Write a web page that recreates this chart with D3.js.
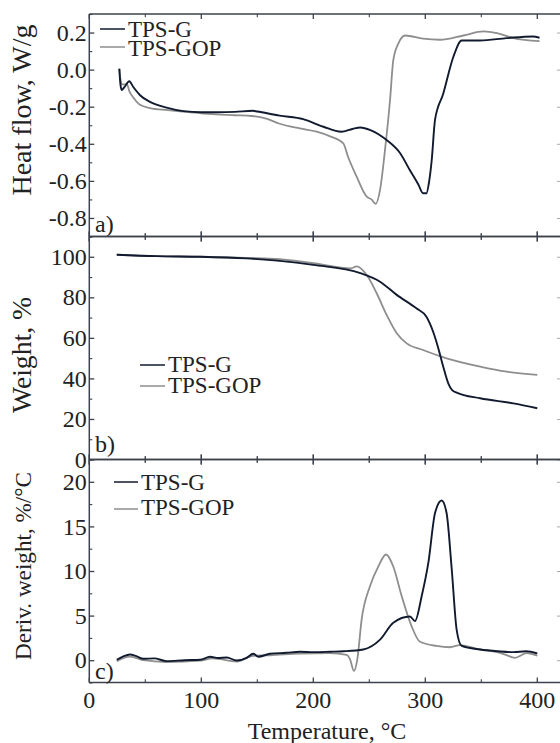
<!DOCTYPE html>
<html>
<head>
<meta charset="utf-8">
<script src="https://cdn.jsdelivr.net/npm/d3@7"></script>
<style>
  body { margin: 0; background: #fff; }
  svg { display: block; font-family: "Liberation Serif", "Times New Roman", serif; }
</style>
</head>
<body>
<div id="chart"></div>
<script>
// [temperature °C, value] pairs
var heatFlowG = [[26.8, 0.005], [27.8, -0.08], [28.9, -0.11], [31.5, -0.093], [35.7, -0.063], [39.3, -0.094],
    [45.3, -0.138], [54.2, -0.174], [69, -0.205], [84, -0.224], [100, -0.23], [114, -0.23], [130, -0.228],
    [146, -0.222], [150, -0.226], [170, -0.248], [191, -0.267], [209, -0.308], [225, -0.335], [235, -0.32],
    [242, -0.312], [251, -0.326], [265.5, -0.38], [277.4, -0.45], [286, -0.54], [293.8, -0.62], [298, -0.667],
    [301, -0.667], [303.5, -0.6], [305.7, -0.49], [308.7, -0.27], [316, -0.13], [325, 0.068], [332.5, 0.157],
    [349, 0.157], [372.7, 0.17], [396, 0.179], [402, 0.172]];
var heatFlowGop = [[26.8, 0.005], [28, -0.06], [29.5, -0.08], [33.4, -0.078], [36, -0.12], [39.3, -0.15],
    [45.3, -0.19], [54.2, -0.207], [70, -0.218], [87, -0.228], [110, -0.24], [128.6, -0.246], [145, -0.25],
    [158, -0.264], [170, -0.292], [188, -0.317], [203, -0.335], [215, -0.36], [226.8, -0.398], [231, -0.47],
    [238.7, -0.577], [247.7, -0.685], [252, -0.7], [255.7, -0.724], [259.6, -0.649], [264, -0.434],
    [268.5, -0.165], [271.4, 0.05], [275.9, 0.14], [282, 0.184], [298, 0.167], [313, 0.161], [334, 0.184],
    [352, 0.206], [364, 0.197], [378.6, 0.17], [402, 0.154]];

var weightG = [[24.5, 101], [60, 100.3], [99, 100], [140, 99.2], [170, 98], [200, 96], [242, 91.9],
    [259.6, 87.7], [274.5, 81.2], [292, 74.6], [301, 70.4], [307, 63], [311.6, 54.9], [316, 45.8],
    [320.5, 37.6], [324, 34.2], [328, 33], [349, 30.2], [378.6, 27.7], [400, 25.3]];
var weightGop = [[24.5, 101], [60, 100.3], [99, 100], [140, 99.4], [170, 98.8], [200, 96.8], [234, 94.3],
    [238.7, 95.3], [247.7, 91], [256.6, 82], [265.5, 71.3], [274.5, 62.3], [283.4, 57.3], [298, 54],
    [319, 49.9], [349, 45.8], [372.7, 43.3], [400, 41.7]];

var derivG = [[24.5, 0.05], [30, 0.4], [36.3, 0.64], [42, 0.45], [48.2, 0.16], [58, 0.2], [69, -0.1], [85, 0.0],
    [99, 0.05], [107.8, 0.38], [115, 0.25], [122.7, 0.3], [131.6, -0.03], [140.5, 0.27], [146.4, 0.72],
    [150.9, 0.38], [161.3, 0.72], [176, 0.83], [188, 0.94], [200, 0.9], [215, 0.95], [227, 1.0], [244.6, 1.2],
    [259.6, 2.3], [271.4, 4.2], [286.3, 4.9], [290.8, 4.4], [296.8, 7.2], [302.7, 10.9], [308.7, 16.5],
    [314.6, 17.9], [319, 16.5], [323.6, 10.2], [328, 3.4], [332.5, 1.6], [349, 1.2], [365, 1.0], [378.6, 0.9],
    [390, 1.0], [400, 0.75]];
var derivGop = [[24.5, -0.1], [36.3, 0.4], [48.2, 0.0], [69, -0.2], [99, -0.05], [110, 0.2], [131.6, -0.15],
    [146.4, 0.5], [161.3, 0.55], [188, 0.75], [215, 0.8], [229.8, 0.6], [232.8, 0.1], [236.3, -1.2],
    [239.3, 0.1], [243.2, 4.6], [250.6, 8.3], [258, 10.5], [265, 11.85], [271.4, 10.5], [278.9, 7.2],
    [287.8, 3.8], [295, 2.1], [310, 1.6], [322, 1.45], [331, 1.7], [349, 1.2], [364, 0.9], [372, 0.6],
    [380, 0.27], [390.5, 0.8], [400, 0.5]];

var seriesNames = ["TPS-G", "TPS-GOP"];
var xTicks = [0, 100, 200, 300, 400];
var heatTicks = [0.2, 0.0, -0.2, -0.4, -0.6, -0.8];
var weightTicks = [0, 20, 40, 60, 80, 100];
var derivTicks = [0, 5, 10, 15, 20];

var width = 560, height = 743,
    left = 89.3, right = 561,
    serif = "\"Liberation Serif\", \"Times New Roman\", serif";

var colG = "#111a2e", colGop = "#8e8e8e", axisCol = "#3d424c", textCol = "#222";

function label(sel, size) {
    return sel.style("font-family", serif).style("font-size", size + "px").attr("fill", textCol);
}

function draw() {
    d3.select("#chart").selectAll("*").remove();

    var svg = d3.select("#chart").append("svg")
        .attr("width", width)
        .attr("height", height);

    var x = d3.scaleLinear().domain([0, 420]).range([left, 559.7]);

    var panels = [
        { top: 14, bottom: 236.5, domain: [-0.9, 0.3], ticks: heatTicks, minor: 0.1, fmt: function (d) { return d3.format(".1f")(d).replace("−", "-"); },
          title: "Heat flow, W/g", titleY: 110, titleLen: 178, tag: "a)", tagY: 232,
          data: [heatFlowG, heatFlowGop],
          legend: { x1: 100, x2: 125, tx: 128, ys: [29, 47], tys: [37, 56] } },
        { top: 236.5, bottom: 459.5, domain: [0, 110], ticks: weightTicks, minor: 10, fmt: d3.format("d"),
          title: "Weight, %", titleY: 355, titleLen: 116, tag: "b)", tagY: 452,
          data: [weightG, weightGop],
          legend: { x1: 140, x2: 165, tx: 168, ys: [365, 386], tys: [372, 393] } },
        { top: 459.5, bottom: 682.5, domain: [-2.5, 22.5], ticks: derivTicks, minor: 2.5, fmt: d3.format("d"),
          title: "Deriv. weight, %/°C", titleY: 566, titleLen: 188, tag: "c)", tagY: 679,
          data: [derivG, derivGop],
          legend: { x1: 114, x2: 138, tx: 141, ys: [482, 509], tys: [490, 515] } }
    ];

    panels.forEach(function (p, pi) {
        var y = d3.scaleLinear().domain(p.domain).range([p.bottom, p.top]);
        var g = svg.append("g");

        var minorVals = d3.range(Math.ceil(p.domain[0] / p.minor) * p.minor, p.domain[1] + 1e-9, p.minor)
            .filter(function (v) { return p.ticks.every(function (t) { return Math.abs(t - v) > 1e-6; }); });

        // inward ticks, left side (major + minor) and faint right side
        g.append("g")
            .attr("transform", "translate(" + left + ",0)")
            .call(d3.axisRight(y).tickValues(p.ticks).tickSize(5).tickFormat(""))
            .call(function (a) { a.select(".domain").remove(); a.selectAll("line").attr("stroke", axisCol).attr("stroke-width", 1.3); });
        g.append("g")
            .attr("transform", "translate(" + left + ",0)")
            .call(d3.axisRight(y).tickValues(minorVals).tickSize(3).tickFormat(""))
            .call(function (a) { a.select(".domain").remove(); a.selectAll("line").attr("stroke", axisCol).attr("stroke-width", 1.1); });
        g.append("g")
            .attr("transform", "translate(" + right + ",0)")
            .call(d3.axisLeft(y).tickValues(p.ticks).tickSize(4).tickFormat(""))
            .call(function (a) { a.select(".domain").remove(); a.selectAll("line").attr("stroke", "#aaa").attr("stroke-width", 1); });

        // tick labels
        label(g.selectAll(".ylab").data(p.ticks).enter().append("text"), 24)
            .attr("x", left - 2.5)
            .attr("y", function (d) { return y(d); })
            .attr("dy", "0.34em")
            .attr("text-anchor", "end")
            .text(p.fmt);

        // x ticks crossing the panel borders
        var xMinor = [50, 150, 250, 350];
        [p.top, p.bottom].forEach(function (yy, k) {
            var above = (pi === 0 && k === 0) ? 0 : 1,
                below = (pi === 2 && k === 1) ? 0 : 1;
            g.selectAll(null).data(xTicks).enter().append("line")
                .attr("x1", function (d) { return x(d); }).attr("x2", function (d) { return x(d); })
                .attr("y1", yy - 5 * above).attr("y2", yy + 5 * below)
                .attr("stroke", axisCol).attr("stroke-width", 1.3);
            g.selectAll(null).data(xMinor).enter().append("line")
                .attr("x1", function (d) { return x(d); }).attr("x2", function (d) { return x(d); })
                .attr("y1", yy - 3.3 * above).attr("y2", yy + 3.3 * below)
                .attr("stroke", axisCol).attr("stroke-width", 1.1);
        });

        // frame
        g.append("line").attr("x1", left).attr("x2", right).attr("y1", p.top).attr("y2", p.top)
            .attr("stroke", axisCol).attr("stroke-width", 1.5);
        g.append("line").attr("x1", left).attr("x2", right).attr("y1", p.bottom).attr("y2", p.bottom)
            .attr("stroke", axisCol).attr("stroke-width", 1.5);
        g.append("line").attr("x1", left).attr("x2", left).attr("y1", p.top).attr("y2", p.bottom)
            .attr("stroke", axisCol).attr("stroke-width", 1.5);

        // curves
        var line = d3.line()
            .x(function (d) { return x(d[0]); })
            .y(function (d) { return y(d[1]); })
            .curve(d3.curveMonotoneX);

        g.append("path").datum(p.data[1])
            .attr("d", line).attr("fill", "none")
            .attr("stroke", colGop).attr("stroke-width", 1.8);
        g.append("path").datum(p.data[0])
            .attr("d", line).attr("fill", "none")
            .attr("stroke", colG).attr("stroke-width", 1.9);

        // legend
        [colG, colGop].forEach(function (c, i) {
            g.append("line")
                .attr("x1", p.legend.x1).attr("x2", p.legend.x2)
                .attr("y1", p.legend.ys[i]).attr("y2", p.legend.ys[i])
                .attr("stroke", c).attr("stroke-width", 1.5);
            label(g.append("text"), 23)
                .attr("x", p.legend.tx).attr("y", p.legend.tys[i])
                .text(seriesNames[i]);
        });

        // panel tag
        label(g.append("text"), 24).attr("x", 95).attr("y", p.tagY).text(p.tag);

        // y title, sized to the length seen in the figure
        var t = label(g.append("text"), 24)
            .attr("class", "ytitle")
            .attr("transform", "translate(31," + p.titleY + ") rotate(-90)")
            .attr("text-anchor", "middle")
            .text(p.title);
        t.datum(p.titleLen);
    });

    // x tick labels on the bottom panel
    label(svg.selectAll(".xlab").data(xTicks).enter().append("text"), 24)
        .attr("x", function (d) { return x(d); })
        .attr("y", 708)
        .attr("text-anchor", "middle")
        .text(function (d) { return d; });

    label(svg.append("text"), 24)
        .attr("x", 327)
        .attr("y", 739)
        .attr("text-anchor", "middle")
        .text("Temperature, °C");

    // force layout of every text so the serif face is picked up, then fit titles
    svg.selectAll("text").each(function () {
        var s = d3.select(this), fs = s.style("font-size");
        this.getComputedTextLength();
        s.style("font-size", null).style("font-size", fs);
    });
    svg.selectAll(".ytitle").each(function (target) {
        var len = this.getComputedTextLength();
        var fs = Math.max(22, Math.min(28, 24 * target / len));
        d3.select(this).style("font-size", fs + "px");
    });
}

draw();
if (document.fonts && document.fonts.load) {
    document.fonts.load("24px \"Liberation Serif\"").then(draw, draw);
}
</script>
</body>
</html>
